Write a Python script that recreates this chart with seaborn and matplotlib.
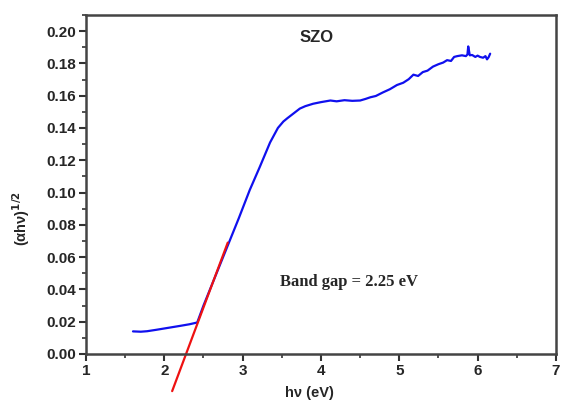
import matplotlib
matplotlib.use("Agg")
import matplotlib.pyplot as plt
import seaborn as sns
import pandas as pd
from matplotlib.ticker import MultipleLocator, FormatStrFormatter

hv = [1.60, 1.70, 1.78, 1.90, 2.05, 2.20, 2.32, 2.42, 2.50, 2.65, 2.80, 2.95, 3.09,
      3.22, 3.35, 3.45, 3.52, 3.57, 3.65, 3.73, 3.80, 3.90, 4.00, 4.12, 4.20, 4.30,
      4.40, 4.50, 4.57, 4.63, 4.70, 4.79, 4.88, 4.97, 5.05, 5.12, 5.18, 5.24, 5.30,
      5.36, 5.43, 5.50, 5.56, 5.61, 5.66, 5.70, 5.74, 5.80, 5.85, 5.87, 5.88, 5.90,
      5.93, 5.97, 6.00, 6.03, 6.07, 6.10, 6.12, 6.14, 6.16]
ahv = [0.0140, 0.0138, 0.0141, 0.0150, 0.0162, 0.0174, 0.0184, 0.0195, 0.0300, 0.0480,
       0.0660, 0.0840, 0.1015, 0.1160, 0.1310, 0.1400, 0.1440, 0.1460, 0.1490, 0.1520,
       0.1535, 0.1550, 0.1560, 0.1570, 0.1565, 0.1572, 0.1568, 0.1570, 0.1580, 0.1590,
       0.1598, 0.1620, 0.1640, 0.1666, 0.1680, 0.1702, 0.1730, 0.1722, 0.1746, 0.1755,
       0.1780, 0.1795, 0.1805, 0.1820, 0.1815, 0.1840, 0.1845, 0.1850, 0.1845, 0.1855,
       0.1905, 0.1850, 0.1852, 0.1840, 0.1848, 0.1840, 0.1835, 0.1845, 0.1825, 0.1838,
       0.1860]

fit_x = [2.10, 2.81]
fit_y = [-0.023, 0.069]

sns.set_theme(style="ticks")
plt.rcParams['font.family'] = ['Liberation Sans', 'DejaVu Sans']

fig = plt.figure(figsize=(5.61, 4.04), dpi=100)
ax = fig.add_axes([0.1533, 0.1238, 0.8377, 0.8392])

df = pd.DataFrame({"hv": hv, "ahv": ahv})
fit = pd.DataFrame({"hv": fit_x, "ahv": fit_y})
sns.lineplot(data=df, x="hv", y="ahv", sort=False, color="#1010ee", lw=1.6, ax=ax)
sns.lineplot(data=fit, x="hv", y="ahv", sort=False, color="#ee1111", lw=1.6, ax=ax)
for l in ax.get_lines():
    l.set_clip_on(False)

ax.set_xlim(1, 7)
ax.set_ylim(0, 0.21)
ax.xaxis.set_major_locator(MultipleLocator(1))
ax.xaxis.set_minor_locator(MultipleLocator(0.5))
ax.yaxis.set_major_locator(MultipleLocator(0.02))
ax.yaxis.set_minor_locator(MultipleLocator(0.01))
ax.yaxis.set_major_formatter(FormatStrFormatter('%.2f'))
ax.tick_params(which='major', direction='out', length=5, width=1.5, color='#333333',
               labelsize=11, pad=2)
ax.tick_params(which='minor', direction='out', length=3, width=1.2, color='#333333')
for lab in ax.get_xticklabels() + ax.get_yticklabels():
    lab.set_fontweight('bold')
for s in ax.spines.values():
    s.set_linewidth(1.8)
    s.set_color('#444444')
    s.set_visible(True)

ax.set_xlabel("hν (eV)", fontweight='bold', fontsize=10.5)
ax.set_ylabel("(αhν)$^{\\mathbf{1/2}}$", fontweight='bold', fontsize=10.5)
ax.xaxis.set_label_coords(0.475, -0.095)
ax.yaxis.set_label_coords(-0.115, 0.40)
ax.text(3.95, 0.196, "SZO", fontweight='bold', fontsize=12, ha='center', va='center')
ax.text(3.48, 0.0446, "Band gap = 2.25 eV", family=['Liberation Serif'],
        fontweight='bold', fontsize=12, ha='left', va='center')

fig.savefig("out.png", dpi=100)
